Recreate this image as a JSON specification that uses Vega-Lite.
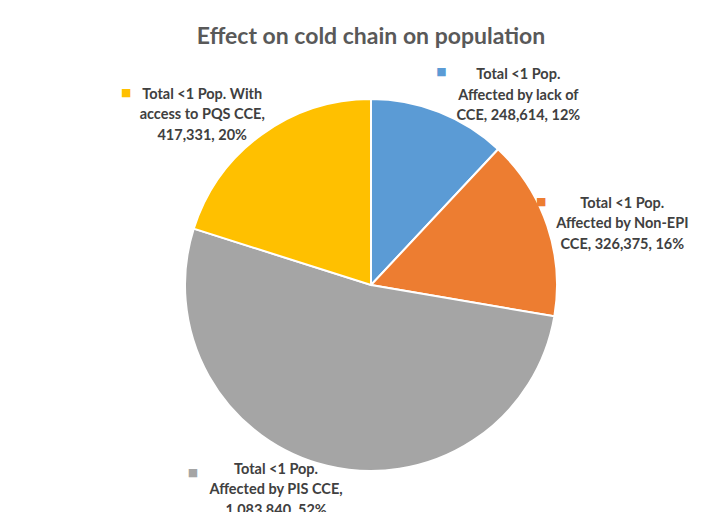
{
  "$schema": "https://vega.github.io/schema/vega-lite/v6.json",
  "autosize": {"type": "fit", "contains": "padding"},
  "width": 724,
  "height": 512,
  "padding": {"left": 18, "right": 0, "top": 26, "bottom": 0},
  "background": "white",
  "title": {"text": "Effect on cold chain on population", "font": "Lato", "fontSize": 23, "fontWeight": "bold", "color": "#595959", "offset": 9, "anchor": "middle"},
  "data": {"values": [
    {"idx": 1, "cat": "lack", "value": 248614, "label": "Total <1 Pop.\nAffected by lack of\nCCE, 248,614, 12%"},
    {"idx": 2, "cat": "nonepi", "value": 326375, "label": "Total <1 Pop.\nAffected by Non-EPI\nCCE, 326,375, 16%"},
    {"idx": 3, "cat": "pis", "value": 1083840, "label": "Total <1 Pop.\nAffected by PIS CCE,\n1,083,840, 52%"},
    {"idx": 4, "cat": "pqs", "value": 417331, "label": "Total <1 Pop. With\naccess to PQS CCE,\n417,331, 20%"}
  ]},
  "encoding": {
    "theta": {"field": "value", "type": "quantitative", "stack": true},
    "order": {"field": "idx", "type": "quantitative"},
    "detail": {"field": "cat", "type": "nominal"}
  },
  "layer": [
    {"mark": {"type": "arc", "outerRadius": 186, "stroke": "white", "strokeWidth": 2},
     "encoding": {"color": {"field": "cat", "type": "nominal", "scale": {"domain": ["lack", "nonepi", "pis", "pqs"], "range": ["#5B9BD5", "#ED7D31", "#A5A5A5", "#FFC000"]}, "legend": null}}},
    {"mark": {"type": "text", "radius": 186, "dx": 79, "dy": -37, "font": "Lato", "fontSize": 14.5, "fontWeight": "bold", "color": "#404040", "lineBreak": "\n", "lineHeight": 20.5, "align": "center", "baseline": "middle"},
     "encoding": {"text": {"condition": {"test": "datum.cat === 'lack'", "field": "label"}, "value": ""}}},
    {"mark": {"type": "text", "radius": 186, "dx": 75, "dy": -22, "font": "Lato", "fontSize": 14.5, "fontWeight": "bold", "color": "#404040", "lineBreak": "\n", "lineHeight": 20.5, "align": "center", "baseline": "middle"},
     "encoding": {"text": {"condition": {"test": "datum.cat === 'nonepi'", "field": "label"}, "value": ""}}},
    {"mark": {"type": "text", "radius": 186, "dx": -51, "dy": 4, "font": "Lato", "fontSize": 14.5, "fontWeight": "bold", "color": "#404040", "lineBreak": "\n", "lineHeight": 20.5, "align": "center", "baseline": "middle"},
     "encoding": {"text": {"condition": {"test": "datum.cat === 'pis'", "field": "label"}, "value": ""}}},
    {"mark": {"type": "text", "radius": 186, "dx": -59, "dy": -40, "font": "Lato", "fontSize": 14.5, "fontWeight": "bold", "color": "#404040", "lineBreak": "\n", "lineHeight": 20.5, "align": "center", "baseline": "middle"},
     "encoding": {"text": {"condition": {"test": "datum.cat === 'pqs'", "field": "label"}, "value": ""}}},
    {"mark": {"type": "text", "radius": 186, "dx": 2, "dy": -40, "font": "DejaVu Sans", "fontSize": 11, "align": "center", "baseline": "middle"},
     "encoding": {"text": {"condition": {"test": "datum.cat === 'lack'", "value": "■"}, "value": ""},
                  "color": {"field": "cat", "type": "nominal", "scale": {"domain": ["lack", "nonepi", "pis", "pqs"], "range": ["#5B9BD5", "#ED7D31", "#A5A5A5", "#FFC000"]}, "legend": null}}},
    {"mark": {"type": "text", "radius": 186, "dx": -6, "dy": -24, "font": "DejaVu Sans", "fontSize": 11, "align": "center", "baseline": "middle"},
     "encoding": {"text": {"condition": {"test": "datum.cat === 'nonepi'", "value": "■"}, "value": ""},
                  "color": {"field": "cat", "type": "nominal", "scale": {"domain": ["lack", "nonepi", "pis", "pqs"], "range": ["#5B9BD5", "#ED7D31", "#A5A5A5", "#FFC000"]}, "legend": null}}},
    {"mark": {"type": "text", "radius": 186, "dx": -134, "dy": 7, "font": "DejaVu Sans", "fontSize": 11, "align": "center", "baseline": "middle"},
     "encoding": {"text": {"condition": {"test": "datum.cat === 'pis'", "value": "■"}, "value": ""},
                  "color": {"field": "cat", "type": "nominal", "scale": {"domain": ["lack", "nonepi", "pis", "pqs"], "range": ["#5B9BD5", "#ED7D31", "#A5A5A5", "#FFC000"]}, "legend": null}}},
    {"mark": {"type": "text", "radius": 186, "dx": -135, "dy": -42, "font": "DejaVu Sans", "fontSize": 11, "align": "center", "baseline": "middle"},
     "encoding": {"text": {"condition": {"test": "datum.cat === 'pqs'", "value": "■"}, "value": ""},
                  "color": {"field": "cat", "type": "nominal", "scale": {"domain": ["lack", "nonepi", "pis", "pqs"], "range": ["#5B9BD5", "#ED7D31", "#A5A5A5", "#FFC000"]}, "legend": null}}}
  ],
  "config": {"view": {"stroke": null}}
}
